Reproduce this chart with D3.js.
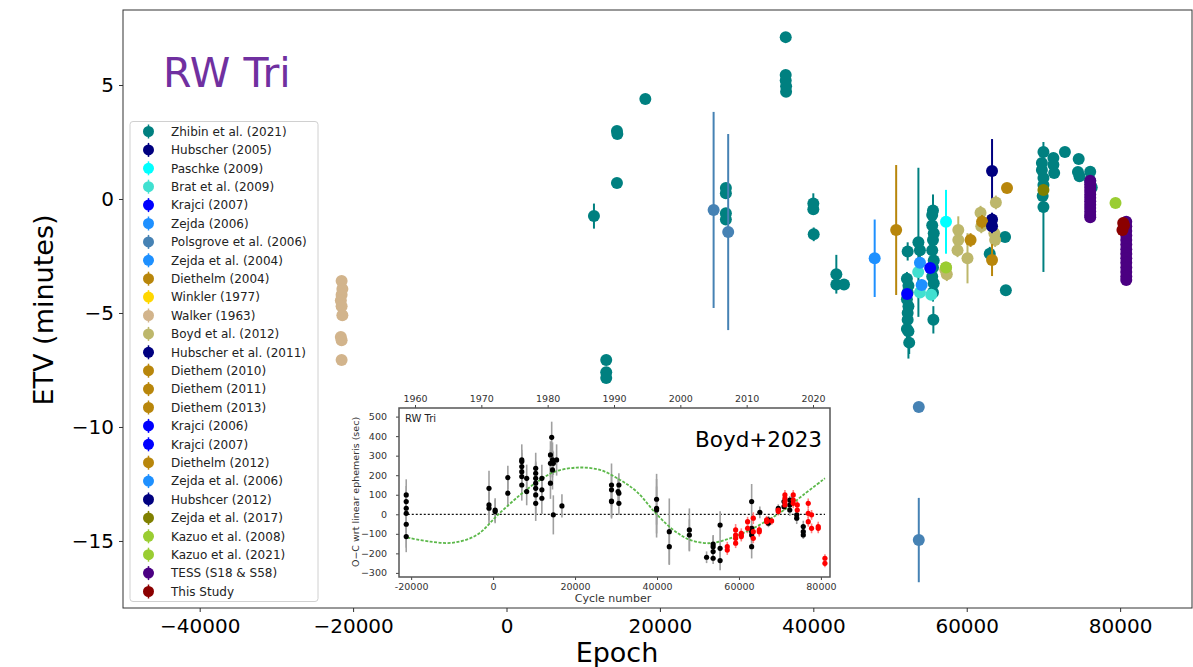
<!DOCTYPE html>
<html>
<head>
<meta charset="utf-8">
<script src="https://cdn.jsdelivr.net/npm/d3@7"></script>
<style>
  body { margin: 0; background: #fff; }
  text { font-family: "DejaVu Sans", sans-serif; }
</style>
</head>
<body>
<svg id="chart"></svg>
<script>
const width = 1193;
const height = 667;

// --- data: [epoch, ETV (min), error (min)] ---
const zhibin2021 = [
  [11400, -0.75, 0.55], [13000, -7.06, 0], [13000, -7.6, 0], [13000, -7.85, 0],
  [14400, 2.98, 0], [14450, 2.85, 0], [14400, 0.7, 0], [18100, 4.39, 0],
  [28600, 0.48, 0.2], [28600, 0.25, 0], [28600, -0.62, 0.2], [28600, -0.9, 0],
  [36400, 7.1, 0], [36400, 5.44, 0], [36400, 5.2, 0], [36450, 4.95, 0], [36450, 4.7, 0],
  [40000, -0.2, 0.45], [40000, -0.45, 0], [40050, -1.55, 0.3],
  [43000, -3.3, 0.85], [43000, -3.75, 0], [44000, -3.75, 0],
  [52300, -2.3, 0.4], [52200, -3.5, 0.3], [52400, -3.8, 0.3], [52300, -4.1, 0.3],
  [52200, -4.4, 0.3], [52400, -4.7, 0.4], [52300, -5.0, 0.3], [52300, -5.3, 0.4],
  [52200, -5.7, 0.4], [52400, -5.8, 1.2], [52500, -6.3, 0.5],
  [53700, -1.9, 3.27], [53900, -2.25, 0.3],
  [55600, -0.5, 0.4], [55500, -0.7, 0.3], [55500, -1.15, 0.4], [55700, -1.5, 0.3],
  [55600, -1.8, 2.0], [55500, -2.25, 0.3], [55700, -2.7, 0.3], [55600, -3.0, 0.3],
  [55500, -3.4, 0.3], [55700, -3.7, 0.4], [55600, -4.1, 0.4], [55650, -5.3, 0.6],
  [63000, -2.4, 0.3], [65000, -1.67, 0], [65100, -4.0, 0],
  [70000, 2.06, 0], [69800, 1.58, 0], [69800, 1.27, 0], [70000, 0.92, 0],
  [70000, 0.61, 0], [69900, 0.13, 0], [70000, -0.35, 2.85],
  [71300, 1.8, 0], [71300, 1.5, 0], [71400, 1.14, 0], [72800, 2.06, 0],
  [74600, 1.75, 0], [74500, 1.18, 0], [74700, 1.0, 0],
  [76100, 1.2, 0], [76100, 0.8, 0], [76300, 0.5, 0]
];
const hubscher2005 = [[63300, 1.23, 1.4]];
const paschke2009 = [[57300, -1.0, 1.4]];
const brat2009 = [[53670, -3.2, 0], [53900, -4.1, 0], [55370, -4.2, 0]];
const krajci2007a = [[52230, -4.17, 0]];
const zejda2006 = [[53900, -2.8, 0]];
const polsgrove2006 = [[27000, -0.48, 4.3], [28900, -1.45, 4.3], [53750, -9.12, 0.2], [53750, -14.96, 1.85]];
const zejda2004 = [[48000, -2.6, 1.7]];
const diethelm2004 = [[50800, -1.36, 2.85]];
const winkler1977 = [];
const walker1963 = [
  [-21500, -3.6, 0], [-21400, -3.95, 0], [-21500, -4.2, 0], [-21600, -4.45, 0],
  [-21500, -4.7, 0], [-21400, -5.1, 0], [-21600, -6.05, 0], [-21500, -6.2, 0], [-21500, -7.06, 0]
];
const boyd2012 = [
  [57300, -3.0, 0.2], [57400, -3.3, 0.3], [57200, -3.1, 0], [58900, -1.36, 0.6],
  [58900, -1.8, 0.3], [58800, -2.25, 0.3], [60100, -2.6, 1.1], [61800, -0.6, 0.3],
  [61900, -1.2, 0.3], [63800, -0.15, 0.3], [63600, -1.5, 0.3], [63700, -1.8, 0.3]
];
const hubscher2011 = [[63300, -0.9, 0.3]];
const diethem2010 = [[60500, -1.8, 0.3]];
const diethem2011 = [[62000, -1.0, 0.3]];
const diethem2013 = [[65250, 0.48, 0.2]];
const krajci2006 = [[55240, -3.03, 0]];
const krajci2007b = [];
const diethelm2012 = [[63300, -2.68, 0.7]];
const zejda2006b = [[54120, -3.77, 0]];
const hubshcer2012 = [[63300, -1.2, 0.3]];
const zejda2017 = [[70000, 0.39, 0]];
const kazuo2008 = [[57300, -3.0, 0]];
const kazuo2021 = [[79400, -0.18, 0]];
const tess = [
  [76100, 0.8, 0], [76100, 0.65, 0], [76100, 0.5, 0], [76100, 0.35, 0], [76100, 0.2, 0],
  [76100, 0.05, 0], [76100, -0.1, 0], [76100, -0.25, 0], [76100, -0.4, 0], [76100, -0.55, 0],
  [76100, -0.7, 0], [76100, -0.8, 0],
  [80800, -1.0, 0], [80800, -1.2, 0], [80800, -1.4, 0], [80800, -1.6, 0], [80800, -1.8, 0],
  [80800, -2.0, 0], [80800, -2.2, 0], [80800, -2.4, 0], [80800, -2.6, 0], [80800, -2.8, 0],
  [80800, -3.0, 0], [80800, -3.2, 0], [80800, -3.4, 0], [80800, -3.55, 0]
];
const thisStudy = [[80400, -1.05, 0], [80300, -1.36, 0], [80500, -1.15, 0]];

const seriesNames = [
  "Zhibin et al. (2021)", "Hubscher (2005)", "Paschke (2009)", "Brat et al. (2009)",
  "Krajci (2007)", "Zejda (2006)", "Polsgrove et al. (2006)", "Zejda et al. (2004)",
  "Diethelm (2004)", "Winkler (1977)", "Walker (1963)", "Boyd et al. (2012)",
  "Hubscher et al. (2011)", "Diethem (2010)", "Diethem (2011)", "Diethem (2013)",
  "Krajci (2006)", "Krajci (2007)", "Diethelm (2012)", "Zejda et al. (2006)",
  "Hubshcer (2012)", "Zejda et al. (2017)", "Kazuo et al. (2008)", "Kazuo et al. (2021)",
  "TESS (S18 & S58)", "This Study"
];
const seriesColors = [
  "#008080", "#000080", "#00ffff", "#40e0d0", "#0000ff", "#1e90ff", "#4682b4", "#1e90ff",
  "#b8860b", "#ffd700", "#d2b48c", "#bdb76b", "#000080", "#b8860b", "#b8860b", "#b8860b",
  "#0000ff", "#0000ff", "#b8860b", "#1e90ff", "#000080", "#808000", "#9acd32", "#9acd32",
  "#4b0082", "#8b0000"
];
const seriesData = [
  zhibin2021, hubscher2005, paschke2009, brat2009, krajci2007a, zejda2006, polsgrove2006,
  zejda2004, diethelm2004, winkler1977, walker1963, boyd2012, hubscher2011, diethem2010,
  diethem2011, diethem2013, krajci2006, krajci2007b, diethelm2012, zejda2006b, hubshcer2012,
  zejda2017, kazuo2008, kazuo2021, tess, thisStudy
];
const series = seriesNames.map((n, i) => ({ name: n, color: seriesColors[i], pts: seriesData[i] }));

const xTicks = [-40000, -20000, 0, 20000, 40000, 60000, 80000];
const yTicks = [5, 0, -5, -10, -15];

// --- inset (Boyd+2023) data: [cycle, O-C (sec), error (sec)] ---
const insetBlack = [
  [-21200, 99, 80], [-21200, 65, 80], [-21200, 31, 90], [-21200, 5, 100], [-21200, -51, 120], [-21200, -114, 80],
  [-1000, 133, 90], [-1000, 48, 80], [-1000, 31, 80], [500, 22, 60], [500, 14, 60],
  [3600, 188, 60], [3600, 108, 70],
  [7000, 278, 80], [7000, 270, 60], [7000, 244, 70], [7000, 218, 60], [7000, 193, 70], [7000, 150, 80],
  [8200, 184, 70], [8200, 116, 70],
  [10400, 235, 80], [10400, 210, 60], [10400, 184, 80], [10400, 159, 70], [10400, 133, 90], [10400, 99, 100], [10400, 56, 90],
  [11900, 184, 70], [11900, 125, 60], [11900, 82, 80],
  [14000, 261, 70], [14000, 304, 70], [14300, 394, 80], [14500, 278, 90], [14500, 227, 100], [14000, 159, 80],
  [14700, -3, 100], [14700, 261, 60], [15500, 278, 80], [16800, 43, 60],
  [28900, 150, 110], [28900, 125, 80], [28900, 68, 90], [28900, 65, 80],
  [30700, 150, 60], [30700, 108, 60], [30500, 116, 70], [30700, 56, 60],
  [39900, 77, 130], [39900, 31, 150], [39900, 22, 120],
  [43000, -89, 170], [43000, -166, 90], [47900, -80, 110], [47900, -106, 80],
  [52100, -220, 30], [53700, -191, 50], [53700, -166, 60], [53700, -152, 40], [53700, -225, 30],
  [55400, -237, 50], [55400, -174, 50], [55400, -55, 70],
  [63100, 65, 90], [63100, -72, 60], [63100, -89, 40], [63100, -106, 50], [63100, -166, 60],
  [65100, 10, 30], [67200, -46, 20], [67200, -29, 20], [69600, 22, 20], [69600, 31, 20],
  [71000, 39, 20], [71000, 65, 20], [72400, 73, 20], [72400, 48, 20], [72400, 22, 30],
  [73000, 65, 20], [73000, 73, 20], [74100, -3, 20], [74100, -20, 30],
  [75700, -63, 30], [75700, -89, 30], [75700, -106, 20]
];
const insetRed = [
  [57150, -166, 25], [57150, -183, 25],
  [59190, -80, 30], [59190, -106, 30], [59190, -123, 25], [59190, -148, 25],
  [60570, -106, 25], [60570, -97, 25], [60570, -114, 25],
  [62110, -38, 25], [62110, -72, 25],
  [63500, -20, 30], [63500, -89, 30], [63500, -123, 25],
  [64960, -89, 25], [64960, -80, 25], [66750, -29, 20], [66750, -38, 20], [67970, -34, 20],
  [69590, 14, 20], [69590, 22, 20],
  [71220, 65, 25], [71220, 99, 25], [71220, 82, 25], [71220, 48, 25],
  [73250, 73, 25], [73250, 56, 25], [73250, 99, 25], [74230, 48, 20], [74230, 22, 20],
  [76910, 56, 25], [76910, 5, 25], [76910, -38, 25], [77720, -3, 25], [77720, -72, 25],
  [79350, -72, 25], [79350, -63, 25], [80980, -225, 20], [80980, -251, 20]
];
// model curve at intervals
const insetModel = [
  [-20900, -119], [-15370, -140], [-9670, -145], [-3980, -106], [1300, 0], [6590, 99],
  [10650, 164], [14720, 215], [20400, 239], [26100, 227], [30980, 176], [35040, 116],
  [39920, 0], [43980, -80], [48050, -131], [52930, -148], [57800, -123], [62680, -80],
  [67560, -24], [71630, 31], [75690, 99], [80980, 184]
];
const insetXTicks = [-20000, 0, 20000, 40000, 60000, 80000];
const insetYTicks = [500, 400, 300, 200, 100, 0, -100, -200, -300];
const insetYears = [1960, 1970, 1980, 1990, 2000, 2010, 2020];

// --- main chart ---
const svg = d3.select("#chart").attr("width", width).attr("height", height);

const x = d3.scaleLinear().domain([-50000, 89500]).range([123, 1193]);
const y = d3.scaleLinear().domain([-17.94, 8.29]).range([608, 10]);

svg.append("g")
  .attr("transform", "translate(0,608)")
  .call(d3.axisBottom(x).tickValues(xTicks).tickSize(4).tickPadding(7).tickFormat(d3.format("d")))
  .call(g => g.select(".domain").remove())
  .call(g => g.selectAll("line").attr("stroke", "#333"))
  .call(g => g.selectAll("text").attr("font-size", 20).attr("fill", "#000")
    .attr("font-family", "DejaVu Sans"));

svg.append("g")
  .attr("transform", "translate(123,0)")
  .call(d3.axisLeft(y).tickValues(yTicks).tickSize(4).tickPadding(5).tickFormat(d3.format("d")))
  .call(g => g.select(".domain").remove())
  .call(g => g.selectAll("line").attr("stroke", "#333"))
  .call(g => g.selectAll("text").attr("font-size", 20).attr("fill", "#000")
    .attr("font-family", "DejaVu Sans"));

// points and error bars
const marks = svg.append("g");
series.forEach(s => {
  const g = marks.append("g");
  g.selectAll("line")
    .data(s.pts.filter(d => d[2] > 0))
    .join("line")
    .attr("x1", d => x(d[0])).attr("x2", d => x(d[0]))
    .attr("y1", d => y(d[1] + d[2])).attr("y2", d => y(d[1] - d[2]))
    .attr("stroke", s.color).attr("stroke-width", 2);
  g.selectAll("circle")
    .data(s.pts)
    .join("circle")
    .attr("cx", d => x(d[0])).attr("cy", d => y(d[1]))
    .attr("r", 6)
    .attr("fill", s.color);
});

// frame
svg.append("rect")
  .attr("x", 123).attr("y", 10).attr("width", 1069).attr("height", 598)
  .attr("fill", "none").attr("stroke", "#333").attr("stroke-width", 1);

// legend
const legend = svg.append("g");
legend.append("rect")
  .attr("x", 130).attr("y", 121.5).attr("width", 188).attr("height", 480)
  .attr("rx", 3).attr("fill", "#fff").attr("fill-opacity", 0.85)
  .attr("stroke", "#d0d0d0");
series.forEach((s, i) => {
  const cy = 131.5 + i * 18.4;
  legend.append("line")
    .attr("x1", 148.5).attr("x2", 148.5).attr("y1", cy - 7).attr("y2", cy + 7)
    .attr("stroke", s.color).attr("stroke-width", 1.5);
  legend.append("circle").attr("cx", 148.5).attr("cy", cy).attr("r", 5.5).attr("fill", s.color);
  legend.append("text").attr("x", 171).attr("y", cy + 4.3)
    .attr("font-size", 12).attr("fill", "#222").text(s.name);
});

// labels
svg.append("text")
  .attr("transform", "translate(53,310) rotate(-90)")
  .attr("text-anchor", "middle")
  .attr("font-family", "Lato").attr("font-size", 27).attr("fill", "#000")
  .text("ETV (minutes)");
svg.append("text")
  .attr("x", 617).attr("y", 662)
  .attr("text-anchor", "middle")
  .attr("font-family", "Lato").attr("font-size", 27).attr("fill", "#000")
  .text("Epoch");
svg.append("text")
  .attr("x", 163).attr("y", 87)
  .attr("font-family", "Lato").attr("font-size", 41).attr("fill", "#7030a0")
  .text("RW Tri");

// --- inset ---
const inset = svg.append("g");
inset.append("rect")
  .attr("x", 322).attr("y", 389).attr("width", 520).attr("height", 217)
  .attr("fill", "#fff");

const ix = d3.scaleLinear().domain([-21500, 81000]).range([405, 825]);
const iy = d3.scaleLinear().domain([-321, 544]).range([577, 408]);
const iyear = d3.scaleLinear().domain([1960, 2020]).range([415, 813]);

const styleInsetAxis = g => {
  g.select(".domain").remove();
  g.selectAll("line").attr("stroke", "#444");
  g.selectAll("text").attr("font-size", 9.5).attr("fill", "#333");
};
inset.append("g").attr("transform", "translate(0,577)")
  .call(d3.axisBottom(ix).tickValues(insetXTicks).tickSize(3).tickPadding(3).tickFormat(d3.format("d")))
  .call(styleInsetAxis)
  .call(g => g.selectAll("text").text(d => String(d)));
inset.append("g").attr("transform", "translate(399,0)")
  .call(d3.axisLeft(iy).tickValues(insetYTicks).tickSize(3).tickPadding(9).tickFormat(d3.format("d")))
  .call(styleInsetAxis);
inset.append("g").attr("transform", "translate(0,408)")
  .call(d3.axisTop(iyear).tickValues(insetYears).tickSize(3).tickPadding(3).tickFormat(d3.format("d")))
  .call(styleInsetAxis);

// zero line
inset.append("line")
  .attr("x1", ix(-21800)).attr("x2", ix(81000)).attr("y1", iy(0)).attr("y2", iy(0))
  .attr("stroke", "#111").attr("stroke-width", 1.2).attr("stroke-dasharray", "2,2");

// error bars and points
inset.append("g").selectAll("line")
  .data(insetBlack).join("line")
  .attr("x1", d => ix(d[0])).attr("x2", d => ix(d[0]))
  .attr("y1", d => iy(d[1] + d[2])).attr("y2", d => iy(d[1] - d[2]))
  .attr("stroke", "#a0a0a0").attr("stroke-width", 1.6);
inset.append("g").selectAll("line")
  .data(insetRed).join("line")
  .attr("x1", d => ix(d[0])).attr("x2", d => ix(d[0]))
  .attr("y1", d => iy(d[1] + d[2])).attr("y2", d => iy(d[1] - d[2]))
  .attr("stroke", "#ff8080").attr("stroke-width", 1.6);

// model curve
inset.append("path")
  .datum(insetModel)
  .attr("d", d3.line().x(d => ix(d[0])).y(d => iy(d[1])).curve(d3.curveCatmullRom))
  .attr("fill", "none").attr("stroke", "#5cb84a").attr("stroke-width", 1.8)
  .attr("stroke-dasharray", "3,1.5");

inset.append("g").selectAll("circle")
  .data(insetBlack).join("circle")
  .attr("cx", d => ix(d[0])).attr("cy", d => iy(d[1])).attr("r", 2.6)
  .attr("fill", "#000");
inset.append("g").selectAll("circle")
  .data(insetRed).join("circle")
  .attr("cx", d => ix(d[0])).attr("cy", d => iy(d[1])).attr("r", 2.6)
  .attr("fill", "#f00");

inset.append("rect")
  .attr("x", 399).attr("y", 408).attr("width", 431).attr("height", 169)
  .attr("fill", "none").attr("stroke", "#555").attr("stroke-width", 1.5);

inset.append("text")
  .attr("transform", "translate(359,492) rotate(-90)")
  .attr("text-anchor", "middle").attr("font-size", 9.5).attr("fill", "#333")
  .text("O\u2212C wrt linear ephemeris (sec)");
inset.append("text")
  .attr("x", 613).attr("y", 602).attr("text-anchor", "middle")
  .attr("font-size", 11).attr("fill", "#333")
  .text("Cycle number");
inset.append("text")
  .attr("x", 405).attr("y", 422)
  .attr("font-size", 10).attr("fill", "#222")
  .text("RW Tri");
inset.append("text")
  .attr("x", 695).attr("y", 447)
  .attr("font-family", "Lato").attr("font-size", 21.5).attr("fill", "#000")
  .text("Boyd+2023");
</script>
</body>
</html>
